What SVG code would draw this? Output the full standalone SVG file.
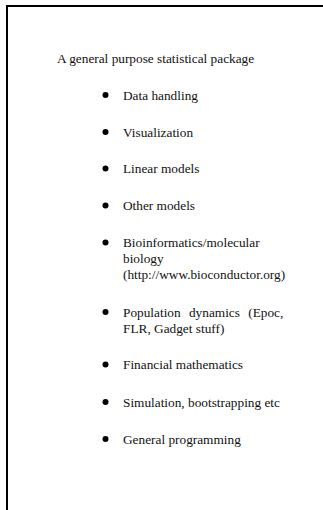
<svg xmlns="http://www.w3.org/2000/svg" width="323" height="510" viewBox="0 0 323 510">
<style>
text{font-family:"Liberation Serif","Times New Roman",serif;font-size:13.3px;fill:#111}
.b{fill:#000}
</style>
<rect width="323" height="510" fill="#fff"/>
<path d="M7,510 V6 H323" fill="none" stroke="#000" stroke-width="2"/>
<g id="title"><text x="57" y="62.5">A general purpose statistical package</text></g>
<g id="item1"><circle class="b" cx="105.5" cy="95" r="3"/><text x="123" y="99.5">Data handling</text></g>
<g id="item2"><circle class="b" cx="105.5" cy="132" r="3"/><text x="123" y="136.5">Visualization</text></g>
<g id="item3"><circle class="b" cx="105.5" cy="168.5" r="3"/><text x="123" y="173">Linear models</text></g>
<g id="item4"><circle class="b" cx="105.5" cy="205.5" r="3"/><text x="123" y="210">Other models</text></g>
<g id="item5"><circle class="b" cx="105.5" cy="242.5" r="3"/><text x="123" y="247">Bioinformatics/molecular</text><text x="123" y="263">biology</text><text x="123" y="279">(http://www.bioconductor.org)</text></g>
<g id="item6"><circle class="b" cx="105.5" cy="312" r="3"/><text x="123" y="316.5" word-spacing="5">Population dynamics (Epoc,</text><text x="123" y="332.5">FLR, Gadget stuff)</text></g>
<g id="item7"><circle class="b" cx="105.5" cy="364.5" r="3"/><text x="123" y="369">Financial mathematics</text></g>
<g id="item8"><circle class="b" cx="105.5" cy="402" r="3"/><text x="123" y="406.5">Simulation, bootstrapping etc</text></g>
<g id="item9"><circle class="b" cx="105.5" cy="439" r="3"/><text x="123" y="443.5">General programming</text></g>
<g id="connectors"/>
</svg>
